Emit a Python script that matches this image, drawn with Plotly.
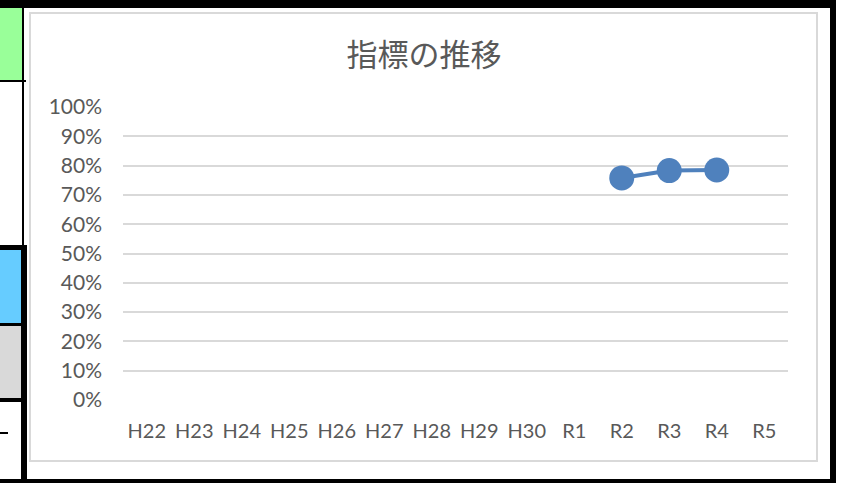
import plotly.graph_objects as go

# Fiscal-year categories (Heisei / Reiwa) and indicator values
years = ["H22", "H23", "H24", "H25", "H26", "H27", "H28", "H29", "H30",
         "R1", "R2", "R3", "R4", "R5"]
rates = [None, None, None, None, None, None, None, None, None,
         None, 0.758, 0.783, 0.785, None]
y_ticks = [i / 10 for i in range(11)]
y_tick_text = [f"{i * 10}%" for i in range(11)]

W, H = 843, 483
L, R, T, B = 123, 55, 107, 83
PW, PH = W - L - R, H - T - B


def px(x):
    return (x - L) / PW


def py(y):
    return (H - B - y) / PH


TEXT = "#595959"
GRID = "#d9d9d9"
BLUE = "#4f81bd"

fig = go.Figure()
fig.add_trace(go.Scatter(
    x=years, y=rates, mode="lines+markers",
    line=dict(color=BLUE, width=4),
    marker=dict(color=BLUE, size=25),
    connectgaps=False, hoverinfo="skip", showlegend=False,
))

shapes = []


def rect(x0, y0, x1, y1, fill, line_color=None, line_width=0):
    shapes.append(dict(
        type="rect", xref="paper", yref="paper",
        x0=px(x0), x1=px(x1), y0=py(y0), y1=py(y1),
        fillcolor=fill,
        line=dict(color=line_color or "rgba(0,0,0,0)", width=line_width),
        layer="below",
    ))


# worksheet cells to the left of the chart
rect(0, 8, 22, 80, "#99ff99")
rect(0, 250, 21, 324, "#66ccff")
rect(0, 326, 21, 399, "#d9d9d9")
# cell borders
rect(0, 80, 26, 82, "#000000")
rect(22, 0, 24, 245, "#000000")
rect(0, 245, 27, 250, "#000000")
rect(21, 245, 27, 483, "#000000")
rect(0, 323, 21, 326, "#000000")
rect(0, 398, 21, 402, "#000000")
rect(0, 432, 8, 434, "#000000")
# frame around the chart cell block
rect(0, 0, 836, 8, "#000000")
rect(830, 0, 836, 483, "#000000")
rect(0, 479, 836, 483, "#000000")
# chart area border
shapes.append(dict(
    type="rect", xref="paper", yref="paper",
    x0=px(30), x1=px(817), y0=py(13), y1=py(461),
    fillcolor="rgba(0,0,0,0)", line=dict(color="#d9d9d9", width=2),
    layer="below",
))

fig.update_layout(
    width=W, height=H,
    margin=dict(l=L, r=R, t=T, b=B, autoexpand=False),
    paper_bgcolor="white", plot_bgcolor="white",
    template="none",
    title=dict(
        text="指標の推移", x=424 / W, xref="container", xanchor="center",
        y=1 - 55 / H, yref="container", yanchor="middle",
        font=dict(family="Noto Sans CJK JP", size=31, color=TEXT),
    ),
    shapes=shapes,
    showlegend=False,
)
fig.update_xaxes(
    type="category", categoryorder="array", categoryarray=years,
    range=[-0.5, len(years) - 0.5],
    showgrid=False, zeroline=False, showline=False, ticks="",
    ticklabelstandoff=17, automargin=False,
    tickfont=dict(family="Lato", size=20, color=TEXT),
)
fig.update_yaxes(
    range=[0, 1], tickvals=y_ticks, ticktext=y_tick_text,
    showgrid=True, gridcolor=GRID, gridwidth=1.5,
    zeroline=False, showline=False, ticks="",
    ticklabelstandoff=20, automargin=False,
    tickfont=dict(family="Lato", size=21, color=TEXT),
)

fig.write_html("out.html")
